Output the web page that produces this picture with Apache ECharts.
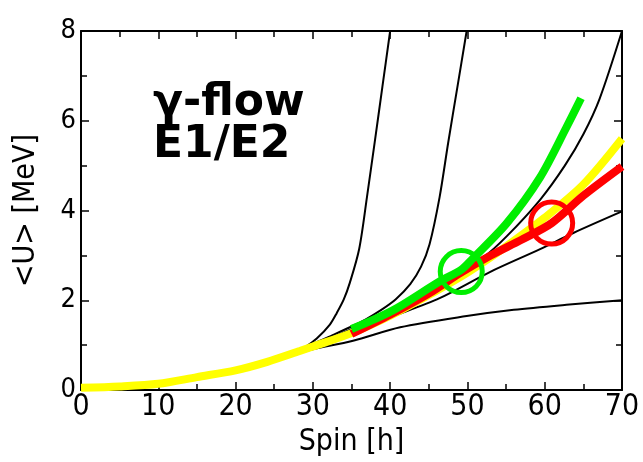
<!DOCTYPE html>
<html>
<head>
    <meta charset="utf-8">
    <title>gamma flow</title>
    <script src="https://cdn.jsdelivr.net/npm/echarts@6/dist/echarts.min.js"></script>
</head>
<body style="margin:0">
    <div id="chart" style="width: 643px;height:462px;"></div>
    <script type="text/javascript">
        // shared low-spin part of all curves
        var base = [[0, 0.04], [5, 0.07], [10, 0.14], [15, 0.28], [20, 0.45], [25, 0.66]];
        // black curves, steepest first
        var curveA = [[27, 0.8], [29, 0.96], [30.5, 1.15], [32.2, 1.46], [33.1, 1.72], [34, 2.02], [34.8, 2.4], [36, 3.15], [37, 4.3], [38, 5.52], [39, 6.76], [40, 8]];
        var curveB = [[27, 0.79], [30, 1.03], [32.5, 1.22], [34.8, 1.4], [36.8, 1.57], [38.7, 1.77], [40.7, 2.02], [42.6, 2.36], [44, 2.75], [45.1, 3.25], [46.4, 4.3], [47.5, 5.5], [48.7, 6.75], [49.9, 8]];
        var curveC = [[28, 0.85], [30, 0.99], [35, 1.36], [40, 1.78], [45, 2.24], [48, 2.55], [52, 2.95], [55.1, 3.43], [59.4, 4.24], [62.6, 5.0], [65, 5.7], [67.1, 6.49], [70, 8]];
        var curveD = [[28, 0.84], [30, 0.97], [35, 1.28], [40, 1.62], [46.4, 2.05], [52.9, 2.63], [59.4, 3.14], [63.7, 3.5], [70, 3.98]];
        var curveE = [[28, 0.82], [30, 0.91], [35.2, 1.1], [41.3, 1.4], [49.9, 1.65], [56, 1.79], [62.8, 1.9], [70, 2.0]];
        // thick coloured curves
        var yellowLine = [[0, 0.05], [5, 0.08], [10, 0.14], [15, 0.29], [20, 0.44], [24.1, 0.63], [28.3, 0.87], [30, 0.97], [35, 1.27], [40, 1.66], [45, 2.12], [50, 2.62], [55, 3.2], [60, 3.84], [65, 4.58], [70, 5.6]];
        var redLine = [[35, 1.25], [40, 1.68], [45, 2.15], [49, 2.6], [53, 3.0], [57, 3.35], [60.9, 3.72], [65, 4.33], [70, 4.98]];
        var greenLine = [[35, 1.36], [38, 1.58], [40.9, 1.83], [46.4, 2.42], [49.2, 2.68], [50.7, 2.93], [55.1, 3.72], [59.4, 4.74], [62.8, 5.85], [64.7, 6.5]];
        var greenMark = [[49.2, 2.64]];
        var redMark = [[60.9, 3.72]];
        var xTicks = [0, 10, 20, 30, 40, 50, 60, 70];
        var yTicks = [0, 2, 4, 6, 8];

        function blackLine(pts) {
            return {
                type: 'line', data: base.concat(pts), showSymbol: false, smooth: 0.3,
                lineStyle: { color: '#000', width: 2 }, z: 2
            };
        }
        function thickLine(pts, color, z) {
            return {
                type: 'line', data: pts, showSymbol: false, smooth: 0.3,
                lineStyle: { color: color, width: 8, cap: 'butt' }, z: z
            };
        }
        function ring(pts, color) {
            return {
                type: 'scatter', data: pts, symbol: 'circle', symbolSize: 42, z: 10,
                itemStyle: { color: 'rgba(0,0,0,0)', borderColor: color, borderWidth: 5, opacity: 1 }
            };
        }

        var font = '"DejaVu Sans Condensed", "Liberation Sans Narrow", "DejaVu Sans", sans-serif';
        var axisCommon = {
            axisLine: { show: true, onZero: false, lineStyle: { color: '#000', width: 2 } },
            axisTick: { show: true, inside: true, length: 8, lineStyle: { color: '#000', width: 1.5 } },
            minorTick: { show: true, splitNumber: 2, length: 6, lineStyle: { color: '#000', width: 1.5 } },
            splitLine: { show: false }
        };

        var myChart = echarts.init(document.getElementById('chart'));
        var option = {
            animation: false,
            backgroundColor: '#fff',
            grid: { left: 81, right: 21, top: 31, bottom: 65 },
            xAxis: [
                Object.assign({
                    type: 'value', min: xTicks[0], max: xTicks[xTicks.length - 1], interval: 10,
                    name: 'Spin [h]', nameLocation: 'middle', nameGap: 36,
                    nameTextStyle: { fontSize: 30, color: '#000', fontFamily: font },
                    axisLabel: { fontSize: 30, color: '#000', margin: 2, fontFamily: font }
                }, axisCommon),
                Object.assign({
                    type: 'value', position: 'top', min: 0, max: 70, interval: 10,
                    axisLabel: { show: false }
                }, axisCommon)
            ],
            yAxis: [
                Object.assign({
                    type: 'value', min: yTicks[0], max: yTicks[yTicks.length - 1], interval: 2,
                    name: '<U> [MeV]', nameLocation: 'middle', nameGap: 40,
                    nameTextStyle: { fontSize: 30, color: '#000', fontFamily: font },
                    axisLabel: { fontSize: 27, color: '#000', margin: 5, fontFamily: font }
                }, axisCommon),
                Object.assign({
                    type: 'value', position: 'right', min: 0, max: 8, interval: 2,
                    axisLabel: { show: false }
                }, axisCommon)
            ],
            graphic: [
                { type: 'text', left: 153, top: 82, style: { text: 'γ-flow', font: 'bold 44px "DejaVu Sans"', fill: '#000' } },
                { type: 'text', left: 153, top: 124, style: { text: 'E1/E2', font: 'bold 44px "DejaVu Sans"', fill: '#000' } }
            ],
            series: [
                blackLine(curveA),
                blackLine(curveB),
                blackLine(curveC),
                blackLine(curveD),
                blackLine(curveE),
                thickLine(yellowLine, '#ffff00', 3),
                thickLine(redLine, '#ff0000', 4),
                thickLine(greenLine, '#00ee00', 5),
                ring(greenMark, '#00ee00'),
                ring(redMark, '#ff0000')
            ]
        };
        myChart.setOption(option);
    </script>
</body>
</html>
